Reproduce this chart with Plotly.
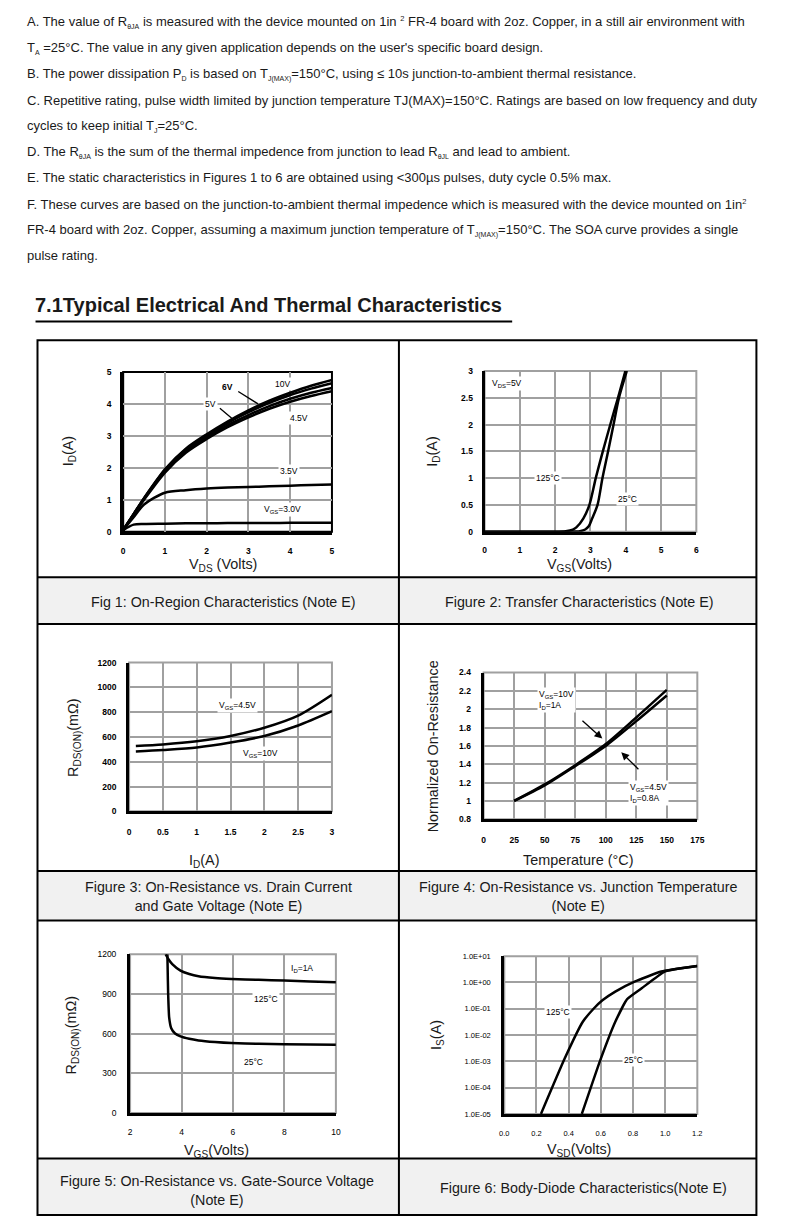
import math
import plotly.graph_objects as go

W, H = 790, 1227
FONT = "Liberation Sans, Arial, sans-serif"
GRID = "#a0a0a0"
TXT = "#1a1a1a"


def PX(x):
    return x / W


def PY(y):
    return 1 - y / H


def sb(t):
    return '<sub><span style="font-size:7px">' + t + "</span></sub>"


def sp(t):
    return '<sup><span style="font-size:7.5px">' + t + "</span></sup>"


# ---------------- notes text ----------------
note_lines = [
    "A. The value of R" + sb("θJA") + " is measured with the device mounted on 1in " + sp("2") + " FR-4 board with 2oz. Copper, in a still air environment with",
    "T" + sb("A") + " =25°C. The value in any given application depends on the user's specific board design.",
    "B. The power dissipation P" + sb("D") + " is based on T" + sb("J(MAX)") + "=150°C, using ≤ 10s junction-to-ambient thermal resistance.",
    "C. Repetitive rating, pulse width limited by junction temperature TJ(MAX)=150°C. Ratings are based on low frequency and duty",
    "cycles to keep initial T" + sb("J") + "=25°C.",
    "D. The R" + sb("θJA") + " is the sum of the thermal impedence from junction to lead R" + sb("θJL") + " and lead to ambient.",
    "E. The static characteristics in Figures 1 to 6 are obtained using &lt;300µs pulses, duty cycle 0.5% max.",
    "F. These curves are based on the junction-to-ambient thermal impedence which is measured with the device mounted on 1in" + sp("2"),
    "FR-4 board with 2oz. Copper, assuming a maximum junction temperature of T" + sb("J(MAX)") + "=150°C. The SOA curve provides a single",
    "pulse rating.",
]
note_y = [17, 43, 70, 96, 122, 148, 174, 201, 227, 253]
section_title = "7.1Typical Electrical And Thermal Characteristics"

# ---------------- Fig 1 data ----------------
vds = [0, 0.25, 0.5, 1, 1.5, 2, 2.5, 3, 3.5, 4, 4.5, 5]
id_10v = [0.05, 0.55, 1.05, 1.95, 2.6, 3.05, 3.45, 3.8, 4.1, 4.35, 4.57, 4.75]
id_6v = [0.05, 0.55, 1.05, 1.93, 2.57, 3.0, 3.4, 3.74, 4.03, 4.28, 4.48, 4.65]
id_5v = [0.05, 0.55, 1.03, 1.9, 2.52, 2.95, 3.33, 3.65, 3.93, 4.16, 4.35, 4.5]
id_45v = [0.05, 0.53, 1.0, 1.85, 2.47, 2.9, 3.27, 3.58, 3.85, 4.07, 4.25, 4.4]
id_35v = [0.05, 0.45, 0.85, 1.22, 1.3, 1.35, 1.38, 1.4, 1.42, 1.44, 1.46, 1.48]
id_30v = [0.05, 0.22, 0.24, 0.25, 0.26, 0.26, 0.27, 0.27, 0.27, 0.28, 0.28, 0.28]

# ---------------- Fig 2 data ----------------
vgs_125 = [0, 2.0, 2.3, 2.5, 2.6, 2.8, 2.97, 3.15, 3.35, 3.57, 3.78, 3.99]
id_125 = [0, 0, 0.01, 0.04, 0.08, 0.25, 0.5, 1.0, 1.5, 2.02, 2.5, 3.0]
vgs_25 = [0, 2.4, 2.7, 2.85, 2.95, 3.05, 3.2, 3.34, 3.5, 3.66, 3.8, 4.03]
id_25 = [0, 0, 0.01, 0.04, 0.1, 0.25, 0.5, 1.0, 1.5, 2.02, 2.48, 3.0]

# ---------------- Fig 3 data ----------------
id_f3 = [0.1, 0.5, 1, 1.5, 2, 2.5, 3]
rds_45v = [528, 540, 565, 608, 675, 773, 941]
rds_10v = [483, 495, 515, 555, 608, 693, 808]

# ---------------- Fig 4 data ----------------
temp_f4 = [25, 50, 75, 100, 125, 150]
norm_10v = [1.0, 1.18, 1.39, 1.62, 1.91, 2.21]
norm_45v = [1.0, 1.17, 1.38, 1.60, 1.87, 2.15]

# ---------------- Fig 5 data ----------------
vgs5_125 = [3.38, 3.5, 3.64, 3.96, 4.3, 4.66, 5.3, 5.94, 7, 7.99, 9, 10]
rds5_125 = [1200, 1160, 1125, 1076, 1050, 1033, 1020, 1013, 1006, 1001, 994, 988]
vgs5_25 = [3.45, 3.46, 3.48, 3.52, 3.6, 3.75, 3.96, 4.3, 4.66, 5.3, 5.94, 7, 7.99, 10]
rds5_25 = [1200, 1100, 900, 720, 640, 600, 578, 560, 548, 536, 528, 523, 520, 515]

# ---------------- Fig 6 data ----------------
vsd_125 = [0.228, 0.376, 0.488, 0.555, 0.61, 0.69, 0.81, 0.976, 1.2]
is_125 = [1e-5, 1.3e-3, 3.2e-2, 0.1, 0.21, 0.45, 1.07, 2.6, 4.2]
vsd_25 = [0.482, 0.594, 0.69, 0.763, 0.854, 0.997, 1.2]
is_25 = [1e-5, 1e-3, 3.2e-2, 0.23, 0.6, 2.6, 4.2]

f6_ytick_vals = [1e-5, 1e-4, 1e-3, 1e-2, 1e-1, 1, 10]
f6_ytick_text = ["1.0E-05", "1.0E-04", "1.0E-03", "1.0E-02", "1.0E-01", "1.0E+00", "1.0E+01"]
f6_xtick_vals = [0, 0.2, 0.4, 0.6, 0.8, 1.0, 1.2]
f6_xtick_text = ["0.0", "0.2", "0.4", "0.6", "0.8", "1.0", "1.2"]

captions = [
    ("Fig 1: On-Region Characteristics (Note E)", 222, 602),
    ("Figure 2: Transfer Characteristics (Note E)", 583, 602),
    ("Figure 3: On-Resistance vs. Drain Current<br>and Gate Voltage (Note E)", 217, 899),
    ("Figure 4: On-Resistance vs. Junction Temperature<br>(Note E)", 582, 899),
    ("Figure 5: On-Resistance vs. Gate-Source Voltage<br>(Note E)", 215, 1195),
    ("Figure 6: Body-Diode Characteristics(Note E)", 587, 1193),
]

fig = go.Figure()
layout = dict(
    width=W, height=H, margin=dict(l=0, r=0, t=0, b=0),
    paper_bgcolor="white", plot_bgcolor="white", showlegend=False,
    font=dict(family=FONT, color=TXT),
)
shapes = []
annotations = []


def add_axes(n, box, xr, yr, xt, yt, xtt=None, ytt=None, ylog=False, bold=True,
             xstand=6, ystand=6, tickfs=8.5, frame=GRID):
    x0, y0, x1, y1 = box
    sfx = "" if n == 1 else str(n)
    tf = dict(family=FONT, size=tickfs, color="black", weight=700 if bold else 400)
    xa = dict(domain=[PX(x0), PX(x1)], range=xr, anchor="y" + sfx, tickmode="array",
              tickvals=xt, showgrid=True, gridcolor=GRID, gridwidth=2,
              showline=True, linecolor="black", linewidth=3, ticks="",
              tickfont=tf, zeroline=False, ticklabelstandoff=xstand, fixedrange=True)
    if xtt is not None:
        xa["ticktext"] = xtt
    ya = dict(domain=[PY(y1), PY(y0)], range=yr, anchor="x" + sfx, tickmode="array",
              tickvals=yt, showgrid=True, gridcolor=GRID, gridwidth=2,
              showline=True, linecolor="black", linewidth=3, ticks="",
              tickfont=tf, zeroline=False, ticklabelstandoff=ystand, fixedrange=True)
    if ytt is not None:
        ya["ticktext"] = ytt
    if ylog:
        ya["type"] = "log"
    layout["xaxis" + sfx] = xa
    layout["yaxis" + sfx] = ya
    shapes.append(dict(type="rect", xref="x" + sfx + " domain", yref="y" + sfx + " domain",
                       x0=0, x1=1, y0=0, y1=1, line=dict(color=frame, width=2),
                       layer="below"))
    return sfx


def curve(sfx, x, y, shape="spline", smoothing=0.8):
    ln = dict(color="black", width=2.5, shape=shape)
    if shape == "spline":
        ln["smoothing"] = smoothing
    fig.add_trace(go.Scatter(x=x, y=y, mode="lines", line=ln, xaxis="x" + sfx,
                             yaxis="y" + sfx, hoverinfo="skip", showlegend=False))


def label(sfx, x, y, text, size=8.5, bold=False, xanchor="center"):
    annotations.append(dict(xref="x" + sfx, yref="y" + sfx, x=x, y=y, text=text,
                            showarrow=False, bgcolor="white", borderpad=1,
                            xanchor=xanchor, align="left",
                            font=dict(family=FONT, size=size, color="black",
                                      weight=700 if bold else 400)))


def pointer(sfx, xt, yt, xh, yh, head=0):
    annotations.append(dict(xref="x" + sfx, yref="y" + sfx, axref="x" + sfx,
                            ayref="y" + sfx, x=xh, y=yh, ax=xt, ay=yt, text="",
                            showarrow=True, arrowhead=head, arrowsize=1.2,
                            arrowwidth=1.3, arrowcolor="black", standoff=0,
                            startstandoff=0))


def ptext(x, y, text, size=14.4, angle=0, xanchor="center", bold=False):
    annotations.append(dict(xref="paper", yref="paper", x=PX(x), y=PY(y), text=text,
                            showarrow=False, xanchor=xanchor, yanchor="middle",
                            textangle=angle,
                            font=dict(family=FONT, size=size, color=TXT,
                                      weight=700 if bold else 400)))


# ---------------- page text ----------------
for t, yy in zip(note_lines, note_y):
    ptext(20, yy, t, size=13, xanchor="left")
ptext(28, 302, section_title, size=20, xanchor="left", bold=True)
shapes.append(dict(type="line", xref="paper", yref="paper", x0=PX(31), x1=PX(515),
                   y0=PY(319), y1=PY(319), line=dict(color="black", width=2)))

# ---------------- table frame ----------------
bands = [(577, 624), (873, 923), (1163, 1220)]
for b0, b1 in bands:
    shapes.append(dict(type="rect", xref="paper", yref="paper", x0=PX(33), x1=PX(763),
                       y0=PY(b1), y1=PY(b0), fillcolor="#f1f1f1", line=dict(width=0),
                       layer="below"))
    for yy in (b0, b1):
        shapes.append(dict(type="line", xref="paper", yref="paper", x0=PX(33), x1=PX(763),
                           y0=PY(yy), y1=PY(yy), line=dict(color="black", width=2)))
shapes.append(dict(type="rect", xref="paper", yref="paper", x0=PX(33), x1=PX(763),
                   y0=PY(1220), y1=PY(338), line=dict(color="black", width=2)))
shapes.append(dict(type="line", xref="paper", yref="paper", x0=PX(400), x1=PX(400),
                   y0=PY(1220), y1=PY(338), line=dict(color="black", width=2)))

for text, cx, cy in captions:
    ptext(cx, cy, text, size=14.3)

# ---------------- Fig 1 ----------------
s = add_axes(1, (120, 370, 332, 531), [0, 5], [0, 5], [0, 1, 2, 3, 4, 5],
             [0, 1, 2, 3, 4, 5], frame="black", xstand=9, ystand=7)
for yv in (id_10v, id_6v, id_5v, id_45v, id_35v, id_30v):
    curve(s, vds, yv)
label(s, 3.81, 4.62, "10V")
label(s, 2.51, 4.53, "6V", bold=True)
pointer(s, 2.72, 4.42, 3.23, 4.0)
label(s, 2.1, 3.99, "5V")
pointer(s, 2.28, 3.9, 2.6, 3.55)
label(s, 4.22, 3.57, "4.5V")
label(s, 3.96, 1.89, "3.5V")
label(s, 3.81, 0.70, "V<sub>GS</sub>=3.0V")
ptext(221, 565, "V<sub>DS</sub> (Volts)")
ptext(65, 450, "I<sub>D</sub>(A)", angle=-90)

# ---------------- Fig 2 ----------------
s = add_axes(2, (487, 369, 702, 531), [0, 6], [0, 3], [0, 1, 2, 3, 4, 5, 6],
             [0, 0.5, 1, 1.5, 2, 2.5, 3], xstand=8, ystand=7)
curve(s, vgs_125, id_125)
curve(s, vgs_25, id_25)
label(s, 0.64, 2.76, "V<sub>DS</sub>=5V")
label(s, 1.81, 1.0, "125°C")
label(s, 4.05, 0.61, "25°C")
ptext(583, 565, "V<sub>GS</sub>(Volts)")
ptext(435, 450, "I<sub>D</sub>(A)", angle=-90)

# ---------------- Fig 3 ----------------
s = add_axes(3, (126, 663, 332, 813), [0, 3], [0, 1200], [0, 0.5, 1, 1.5, 2, 2.5, 3],
             [0, 200, 400, 600, 800, 1000, 1200], xstand=10, ystand=8)
curve(s, id_f3, rds_45v)
curve(s, id_f3, rds_10v)
label(s, 1.61, 853, "V<sub>GS</sub>=4.5V")
label(s, 1.95, 467, "V<sub>GS</sub>=10V")
ptext(202, 863, "I<sub>D</sub>(A)")
ptext(70, 738, "R<sub>DS(ON)</sub>(mΩ)", angle=-90)

# ---------------- Fig 4 ----------------
s = add_axes(4, (486, 673, 703, 821), [0, 175], [0.8, 2.4],
             [0, 25, 50, 75, 100, 125, 150, 175],
             [0.8, 1.0, 1.2, 1.4, 1.6, 1.8, 2.0, 2.2, 2.4],
             ytt=["0.8", "1", "1.2", "1.4", "1.6", "1.8", "2", "2.2", "2.4"],
             xstand=10, ystand=8)
curve(s, temp_f4, norm_10v)
curve(s, temp_f4, norm_45v)
label(s, 44, 2.1, "V<sub>GS</sub>=10V<br>I<sub>D</sub>=1A", xanchor="left")
pointer(s, 79.7, 1.89, 97.2, 1.68, head=2)
label(s, 118, 1.09, "V<sub>GS</sub>=4.5V<br>I<sub>D</sub>=0.8A", xanchor="left")
pointer(s, 128, 1.33, 112.7, 1.53, head=2)
ptext(582, 862, "Temperature (°C)")
ptext(435, 747, "Normalized On-Resistance", angle=-90)

# ---------------- Fig 5 ----------------
s = add_axes(5, (127, 957, 336, 1117), [2, 10], [0, 1200], [2, 4, 6, 8, 10],
             [0, 300, 600, 900, 1200], bold=False, xstand=9, ystand=9)
curve(s, vgs5_125, rds5_125, smoothing=0.5)
curve(s, vgs5_25, rds5_25, smoothing=0.5)
label(s, 8.7, 1095, "I<sub>D</sub>=1A")
label(s, 7.29, 859, "125°C")
label(s, 6.78, 386, "25°C")
ptext(215, 1155, "V<sub>GS</sub>(Volts)")
ptext(68, 1038, "R<sub>DS(ON)</sub>(mΩ)", angle=-90)

# ---------------- Fig 6 ----------------
s = add_axes(6, (507, 959, 703, 1118), [0, 1.2], [-5, 1], f6_xtick_vals, f6_ytick_vals,
             xtt=f6_xtick_text, ytt=f6_ytick_text, ylog=True, bold=False,
             tickfs=7.5, xstand=10, ystand=9)
curve(s, vsd_125, is_125, smoothing=0.4)
curve(s, vsd_25, is_25, smoothing=0.4)
# annotation positions on a log axis are given in log10 units
label(s, 0.335, math.log10(0.074), "125°C")
label(s, 0.803, math.log10(1.1e-3), "25°C")
ptext(583, 1154, "V<sub>SD</sub>(Volts)")
ptext(438, 1038, "I<sub>S</sub>(A)", angle=-90)

layout["shapes"] = shapes
layout["annotations"] = annotations
fig.update_layout(**layout)
fig.write_html("out.html", config={"displayModeBar": False},
               post_script="document.body.style.margin='0';")
